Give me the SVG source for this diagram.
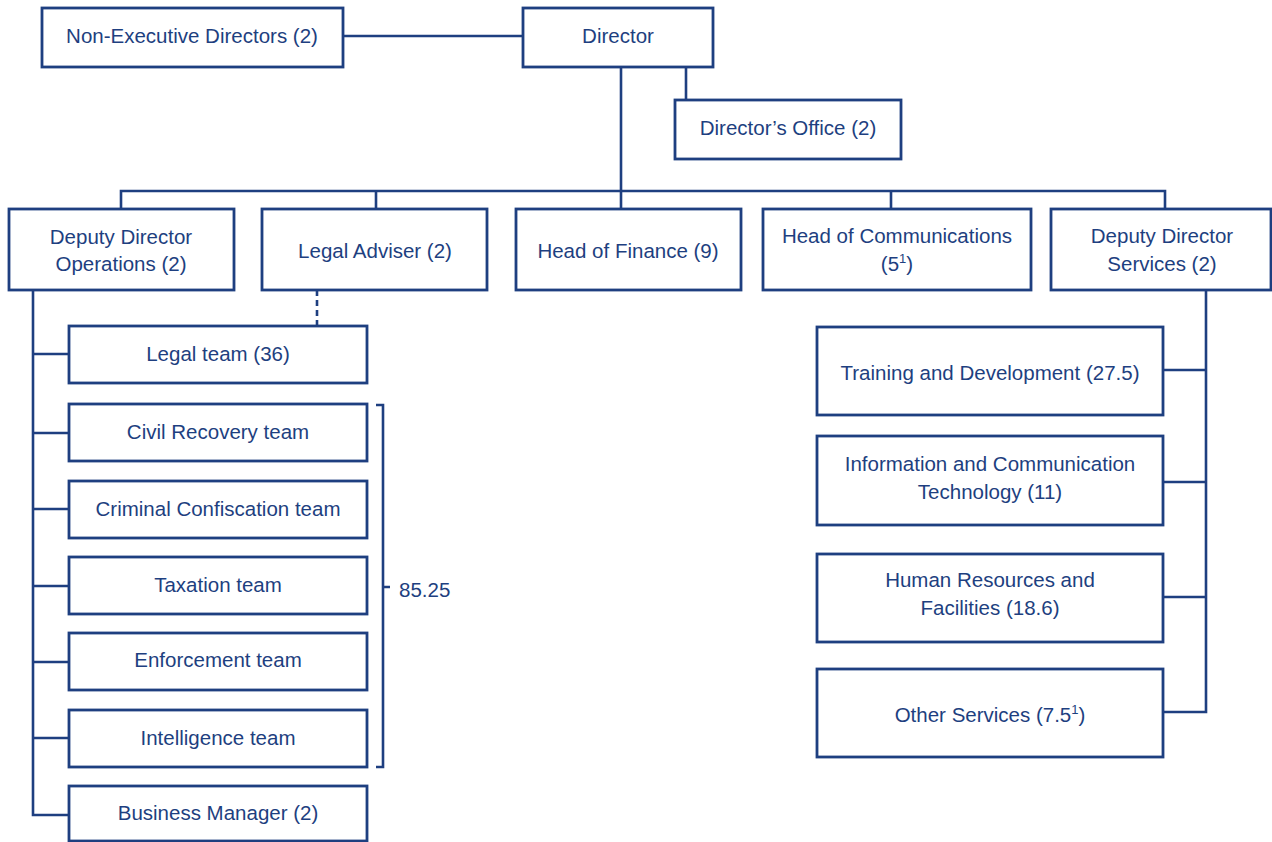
<svg xmlns="http://www.w3.org/2000/svg" width="1272" height="842" viewBox="0 0 1272 842">
<style>
.box{fill:#fff;stroke:#1e3f80;stroke-width:2.8}
.ln{fill:none;stroke:#1e3f80;stroke-width:2.6}
.dash{fill:none;stroke:#1e3f80;stroke-width:2.6;stroke-dasharray:6,4}
text{font-family:"Liberation Sans",Arial,sans-serif;font-size:20.5px;fill:#1e3f80;text-anchor:middle}
.sup{font-size:13px}
</style>
<rect width="1272" height="842" fill="#fff"/>
<g id="connectors">
<path class="ln" d="M343,36H523"/>
<path class="ln" d="M621,67V209"/>
<path class="ln" d="M686,67V100"/>
<path class="ln" d="M121,209V191H1165V209"/>
<path class="ln" d="M376,191V209"/>
<path class="ln" d="M891,191V209"/>
<path class="dash" d="M317,290V326"/>
<path class="ln" d="M33,290V815H69"/>
<path class="ln" d="M33,354H69M33,433H69M33,509H69M33,586H69M33,662H69M33,738H69"/>
<path class="ln" d="M376,405H383V767H376M383,587H390"/>
<path class="ln" d="M1206,290V712H1163"/>
<path class="ln" d="M1163,370H1206M1163,482H1206M1163,597H1206"/>
</g>
<g id="n-nonexec"><rect class="box" x="42" y="8" width="301" height="59"/><text x="192" y="43">Non-Executive Directors (2)</text></g>
<g id="n-director"><rect class="box" x="523" y="8" width="190" height="59"/><text x="618" y="43">Director</text></g>
<g id="n-office"><rect class="box" x="675" y="100" width="226" height="59"/><text x="788" y="135">Director’s Office (2)</text></g>
<g id="n-ddo"><rect class="box" x="9" y="209" width="225" height="81"/><text x="121" y="244">Deputy Director</text><text x="121" y="271">Operations (2)</text></g>
<g id="n-legaladv"><rect class="box" x="262" y="209" width="225" height="81"/><text x="375" y="258">Legal Adviser (2)</text></g>
<g id="n-finance"><rect class="box" x="516" y="209" width="225" height="81"/><text x="628" y="258">Head of Finance (9)</text></g>
<g id="n-comms"><rect class="box" x="763" y="209" width="268" height="81"/><text x="897" y="243">Head of Communications</text><text x="897" y="271">(5<tspan class="sup" dy="-8">1</tspan><tspan dy="8">)</tspan></text></g>
<g id="n-dds"><rect class="box" x="1051" y="209" width="220" height="81"/><text x="1162" y="243">Deputy Director</text><text x="1162" y="271">Services (2)</text></g>
<g id="n-legalteam"><rect class="box" x="69" y="326" width="298" height="57"/><text x="218" y="361">Legal team (36)</text></g>
<g id="n-civil"><rect class="box" x="69" y="404" width="298" height="57"/><text x="218" y="439">Civil Recovery team</text></g>
<g id="n-criminal"><rect class="box" x="69" y="481" width="298" height="57"/><text x="218" y="516">Criminal Confiscation team</text></g>
<g id="n-tax"><rect class="box" x="69" y="557" width="298" height="57"/><text x="218" y="592">Taxation team</text></g>
<g id="n-enforce"><rect class="box" x="69" y="633" width="298" height="57"/><text x="218" y="667">Enforcement team</text></g>
<g id="n-intel"><rect class="box" x="69" y="710" width="298" height="57"/><text x="218" y="745">Intelligence team</text></g>
<g id="n-business"><rect class="box" x="69" y="786" width="298" height="55"/><text x="218" y="820">Business Manager (2)</text></g>
<g id="n-total"><text x="399" y="597" style="text-anchor:start">85.25</text></g>
<g id="n-training"><rect class="box" x="817" y="327" width="346" height="88"/><text x="990" y="380">Training and Development (27.5)</text></g>
<g id="n-ict"><rect class="box" x="817" y="436" width="346" height="89"/><text x="990" y="471">Information and Communication</text><text x="990" y="499">Technology (11)</text></g>
<g id="n-hr"><rect class="box" x="817" y="554" width="346" height="88"/><text x="990" y="587">Human Resources and</text><text x="990" y="615">Facilities (18.6)</text></g>
<g id="n-other"><rect class="box" x="817" y="669" width="346" height="88"/><text x="990" y="722">Other Services (7.5<tspan class="sup" dy="-8">1</tspan><tspan dy="8">)</tspan></text></g>
</svg>
